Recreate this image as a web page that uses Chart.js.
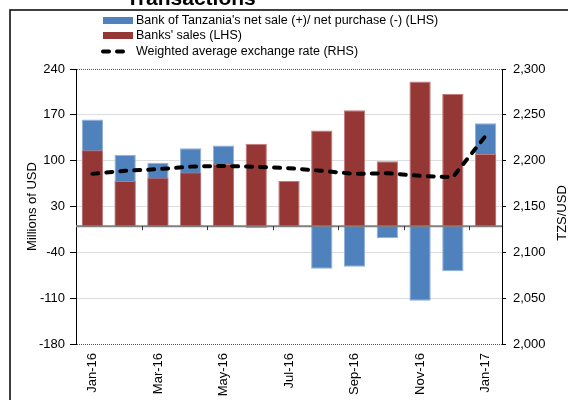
<!DOCTYPE html>
<html>
<head>
<meta charset="utf-8">
<script src="https://cdn.jsdelivr.net/npm/chart.js@4/dist/chart.umd.min.js"></script>
<style>
  html, body { margin: 0; padding: 0; background: #fff; }
</style>
</head>
<body>
<canvas id="grafico" width="568" height="400"></canvas>
<script>
// values
var months = ['Jan-16', 'Feb-16', 'Mar-16', 'Apr-16', 'May-16', 'Jun-16', 'Jul-16',
              'Aug-16', 'Sep-16', 'Oct-16', 'Nov-16', 'Dec-16', 'Jan-17'];
var botNetSale = [163, 109, 97, 119, 123, -3, -1, -65, -62, -18, -114, -69, 157];
var banksSales = [116, 69, 74, 82, 95, 126, 69, 146, 177, 99, 221, 202, 110];
var exchangeRate = [2185.6, 2189, 2190.7, 2193.5, 2194.3, 2193.2, 2191.8, 2188.9, 2185.6, 2186.3, 2183.4, 2182, 2227];

var lhsMin = -180, lhsMax = 240, lhsStep = 70;
var rhsMin = 2000, rhsMax = 2300, rhsStep = 50;

var legendNames = [
  "Bank of Tanzania's net sale (+)/ net purchase (-) (LHS)",
  "Banks' sales (LHS)",
  'Weighted average exchange rate (RHS)'
];

var blue = '#4F81BD', red = '#953735';
var font = 'Liberation Sans, Arial, sans-serif';

Chart.defaults.font.family = font;
Chart.defaults.font.size = 13;
Chart.defaults.color = '#000';

// frame, title, legend, zero line and right axis title
var extras = {
  id: 'extras',
  beforeDraw: function (chart) {
    var c = chart.ctx;
    c.save();
    c.fillStyle = '#fff';
    c.fillRect(0, 0, chart.width, chart.height);
    c.strokeStyle = '#000';
    c.lineWidth = 1.5;
    c.strokeRect(10, 10, chart.width + 10, chart.height + 10);
    c.restore();
  },
  afterDatasetsDraw: function (chart) {
    var c = chart.ctx, x = chart.scales.x, y = chart.scales.y;
    var y0 = y.getPixelForValue(0);
    c.save();
    c.strokeStyle = '#7f7f7f';
    c.lineWidth = 2;
    c.beginPath();
    c.moveTo(chart.chartArea.left, y0);
    c.lineTo(chart.chartArea.right, y0);
    c.stroke();
    c.lineWidth = 1;
    c.strokeStyle = '#333';
    for (var i = 1; i < months.length; i += 2) {
      var px = Math.round((x.getPixelForValue(i) + x.getPixelForValue(i + 1)) / 2) + 0.5;
      c.beginPath();
      c.moveTo(px, y0);
      c.lineTo(px, y0 + 4);
      c.stroke();
    }
    c.restore();
  },
  afterDraw: function (chart) {
    var c = chart.ctx;
    c.save();
    // title, cut off by the top edge
    c.fillStyle = '#000';
    c.font = 'bold 21px ' + font;
    c.textAlign = 'center';
    c.textBaseline = 'alphabetic';
    c.fillText('Transactions', 191, 5);

    // legend
    c.font = '12.5px ' + font;
    c.textAlign = 'left';
    c.textBaseline = 'middle';
    c.fillStyle = blue;
    c.fillRect(103, 17, 30, 7);
    c.fillStyle = red;
    c.fillRect(103, 32, 30, 7);
    c.strokeStyle = '#000';
    c.lineWidth = 4;
    c.lineCap = 'round';
    c.setLineDash([6, 8]);
    c.beginPath();
    c.moveTo(103, 51.5);
    c.lineTo(131, 51.5);
    c.stroke();
    c.setLineDash([]);
    c.fillStyle = '#000';
    c.fillText(legendNames[0], 136, 21);
    c.fillText(legendNames[1], 136, 36);
    c.fillText(legendNames[2], 136, 52);

    // right axis title, reading upward
    c.font = '13px ' + font;
    c.translate(562, 213);
    c.rotate(-Math.PI / 2);
    c.textAlign = 'center';
    c.fillText('TZS/USD', 0, 0);
    c.restore();
  }
};

var edgeTick = function (ctx) {
  return ctx.tick && (ctx.tick.value === lhsMin || ctx.tick.value === lhsMax);
};

var grafico = new Chart(document.getElementById('grafico'), {
  type: 'bar',
  data: {
    labels: months,
    datasets: [{
      type: 'bar',
      label: legendNames[0],
      data: botNetSale,
      backgroundColor: blue,
      borderColor: '#8fb0d9',
      borderWidth: 1,
      yAxisID: 'y',
      order: 2
    }, {
      type: 'bar',
      label: legendNames[1],
      data: banksSales,
      backgroundColor: red,
      borderColor: '#c07b7a',
      borderWidth: 1,
      yAxisID: 'y',
      order: 1
    }, {
      type: 'line',
      label: legendNames[2],
      data: exchangeRate,
      borderColor: '#000',
      borderWidth: 4,
      borderDash: [6, 8],
      borderCapStyle: 'round',
      pointRadius: 0,
      tension: 0,
      fill: false,
      yAxisID: 'y1',
      order: 0
    }]
  },
  options: {
    responsive: false,
    animation: false,
    datasets: {
      bar: { categoryPercentage: 1, barPercentage: 0.65 }
    },
    layout: { padding: { top: 69, left: 0, right: 0, bottom: 0 } },
    plugins: {
      legend: { display: false },
      title: { display: false },
      tooltip: { enabled: false }
    },
    scales: {
      x: {
        stacked: true,
        grid: { display: false, drawTicks: false },
        border: { display: false },
        ticks: {
          autoSkip: false,
          maxRotation: 90,
          minRotation: 90,
          padding: 9,
          callback: function (v, i) { return i % 2 === 0 ? months[i] : ''; }
        },
        afterFit: function (s) { s.height = 56; }
      },
      y: {
        position: 'left',
        stacked: false,
        min: lhsMin,
        max: lhsMax,
        ticks: { stepSize: lhsStep, padding: 5 },
        grid: {
          color: function (ctx) { return edgeTick(ctx) ? '#555' : '#dddddd'; },
          tickColor: '#000',
          tickLength: 6
        },
        border: {
          color: '#000',
          width: 1,
          dash: function (ctx) { return edgeTick(ctx) ? [1, 1] : []; }
        },
        title: {
          display: true,
          text: 'Millions of USD',
          font: { size: 13 },
          padding: { top: 25, bottom: 0 }
        },
        afterFit: function (s) { s.width = 76; }
      },
      y1: {
        position: 'right',
        min: rhsMin,
        max: rhsMax,
        ticks: { stepSize: rhsStep, padding: 7 },
        grid: { drawOnChartArea: false, tickColor: '#000', tickLength: 4 },
        border: { color: '#000', width: 1 },
        afterFit: function (s) { s.width = 66; }
      }
    }
  },
  plugins: [extras]
});
</script>
</body>
</html>
